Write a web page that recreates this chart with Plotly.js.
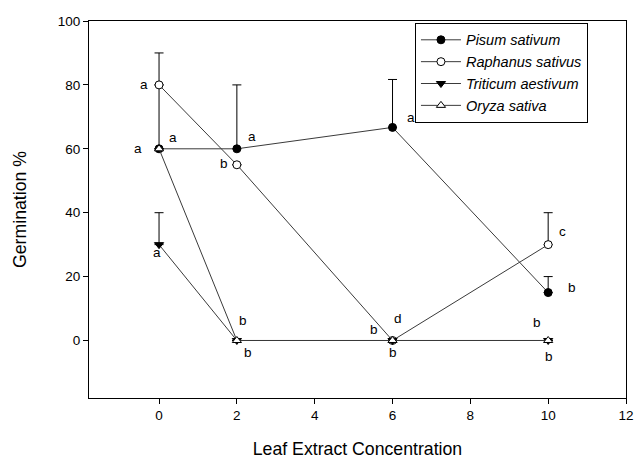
<!DOCTYPE html>
<html><head><meta charset="utf-8">
<script src="https://cdn.plot.ly/plotly-3.0.1.min.js"></script>
<style>html,body{margin:0;padding:0;background:#fff}#chart{width:634px;height:459px}</style>
</head><body><div id="chart"></div>
<script>
const concentrations = [0, 2, 6, 10];
const pisum = [60, 60, 66.7, 15];
const pisumErr = [20, 20, 15, 5];
const raphanus = [80, 55, 0, 30];
const raphanusErr = [10, 0, 0, 10];
const triticum = [30, 0, 0, 0];
const triticumErr = [10, 0, 0, 0];
const oryza = [60, 0, 0, 0];
const oryzaErr = [0, 0, 0, 0];
const seriesNames = ['Pisum sativum', 'Raphanus sativus', 'Triticum aestivum', 'Oryza sativa'];
const letterLabels = [
  [-0.39, 80, 'a'], [-0.54, 60, 'a'], [0.36, 63.5, 'a'],
  [2.39, 64, 'a'], [1.67, 55.4, 'b'], [6.48, 69.7, 'a'],
  [-0.05, 27.6, 'a'], [2.16, 6.2, 'b'], [2.29, -3.7, 'b'],
  [5.53, 3.4, 'b'], [6.14, 6.8, 'd'], [6.02, -3.7, 'b'],
  [10.36, 34.2, 'c'], [10.62, 16.5, 'b'], [9.72, 5.6, 'b'], [10.03, -5, 'b']
];

const FAM = 'Liberation Sans, Arial, sans-serif';
function series(name, y, err, symbol, fill) {
  return {
    x: concentrations, y: y, name: '<i>' + name + '</i>', type: 'scatter', mode: 'lines+markers',
    line: {color: '#3a3a3a', width: 1},
    marker: {symbol: symbol, size: 8, color: fill, line: {color: '#000', width: 1}},
    error_y: {type: 'data', symmetric: false, array: err, arrayminus: err.map(() => 0),
      color: '#000', thickness: 1, width: 4.5}
  };
}
const data = [
  series(seriesNames[0], pisum, pisumErr, 'circle', '#000'),
  series(seriesNames[1], raphanus, raphanusErr, 'circle', '#fff'),
  series(seriesNames[2], triticum, triticumErr, 'triangle-down', '#000'),
  series(seriesNames[3], oryza, oryzaErr, 'triangle-up', '#fff')
];
const annotations = letterLabels.map(l => ({
  x: l[0], y: l[1], xref: 'x', yref: 'y', text: l[2], showarrow: false,
  font: {family: FAM, size: 13.5, color: '#000'}
}));
const tickFont = {family: FAM, size: 13.5, color: '#000'};
const titleFont = {family: FAM, size: 17.7, color: '#000'};
const layout = {
  width: 634, height: 459,
  margin: {l: 89, r: 8, t: 21, b: 61},
  paper_bgcolor: '#fff', plot_bgcolor: '#fff',
  font: tickFont,
  showlegend: true,
  legend: {x: 0.607, y: 0.995, xanchor: 'left', yanchor: 'top', bgcolor: '#fff',
    bordercolor: '#000', borderwidth: 1,
    font: {family: FAM, size: 14.5, color: '#000'},
    tracegroupgap: 0, itemwidth: 40},
  xaxis: {range: [-1.8, 12], tickvals: [0, 2, 4, 6, 8, 10, 12], ticks: 'outside', ticklen: 5,
    tickcolor: '#000', showline: true, linecolor: '#000', linewidth: 1, mirror: true,
    showgrid: false, zeroline: false, tickfont: tickFont,
    title: {text: 'Leaf Extract Concentration', font: titleFont, standoff: 20}},
  yaxis: {range: [-18, 100], tickvals: [0, 20, 40, 60, 80, 100], ticks: 'outside', ticklen: 5,
    tickcolor: '#000', showline: true, linecolor: '#000', linewidth: 1, mirror: true,
    showgrid: false, zeroline: false, tickfont: tickFont,
    title: {text: 'Germination %', font: titleFont, standoff: 26}},
  annotations: annotations
};
Plotly.newPlot('chart', data, layout, {displayModeBar: false, staticPlot: true});
</script></body></html>
